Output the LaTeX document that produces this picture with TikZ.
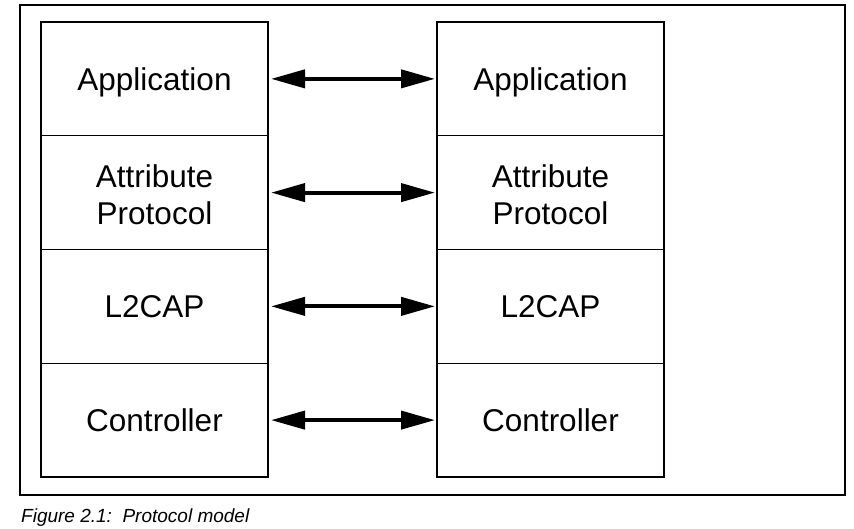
\documentclass[tikz,border=0pt]{standalone}
\usepackage{fontspec}
\setmainfont{Liberation Sans}
\usepackage{tikz}
\usetikzlibrary{positioning,arrows.meta}

\begin{document}
\begin{tikzpicture}[
  x=1pt, y=1pt,
  layer/.style={draw, line width=1.2pt, outer sep=0pt, inner sep=0pt,
    minimum width=227pt, minimum height=113.75pt, align=center,
    font=\fontsize{31.5}{37}\selectfont},
  oneline/.style={text height=22.5pt, text depth=0pt},
  twoline/.style={text height=64pt, text depth=0pt},
  peer/.style={line width=4pt,
    {Triangle[length=34pt,width=18pt]}-{Triangle[length=34pt,width=18pt]},
    shorten <=3pt, shorten >=2pt}
  ]
  \useasboundingbox (0,0) rectangle (854,529);

  % outer frame
  \node[draw, line width=1.5pt, outer sep=0pt, minimum width=825pt,
    minimum height=490pt, anchor=north west] (frame) at (20,524) {};

  % left stack
  \node[layer, oneline, anchor=north west] (lapp) at (41,507) {Application};
  \node[layer, twoline, below=0pt of lapp] (latt) {Attribute\\Protocol};
  \node[layer, oneline, below=0pt of latt] (ll2c) {L2CAP};
  \node[layer, oneline, below=0pt of ll2c] (lctl) {Controller};

  % right stack
  \node[layer, oneline, right=169pt of lapp] (rapp) {Application};
  \node[layer, twoline, below=0pt of rapp] (ratt) {Attribute\\Protocol};
  \node[layer, oneline, below=0pt of ratt] (rl2c) {L2CAP};
  \node[layer, oneline, below=0pt of rl2c] (rctl) {Controller};

  % peer arrows
  \draw[peer] (lapp) -- (rapp);
  \draw[peer] (latt) -- (ratt);
  \draw[peer] (ll2c) -- (rl2c);
  \draw[peer] (lctl) -- (rctl);

  \node[anchor=base west, inner sep=0pt, font=\fontsize{19}{22}\selectfont\itshape]
    (caption) at (21,6) {Figure 2.1:\ \ Protocol model};
\end{tikzpicture}
\end{document}
